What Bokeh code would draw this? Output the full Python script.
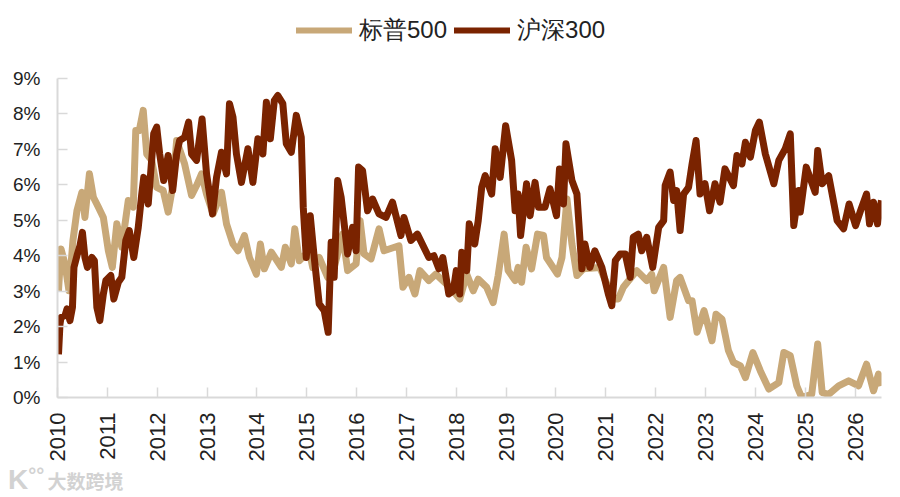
from bokeh.plotting import figure
from bokeh.layouts import column
from bokeh.models import Legend, LegendItem, FixedTicker, Range1d, Div
from bokeh.embed import file_html
from bokeh.resources import INLINE

series_names = ["标普500", "沪深300"]
year_ticks = list(range(2010, 2027))
pct_ticks = list(range(0, 10))

spx_years = [2010.02,2010.07,2010.15,2010.23,2010.31,2010.39,2010.49,2010.55,2010.64,2010.72,2010.82,2010.92,
 2011.02,2011.10,2011.19,2011.29,2011.42,2011.52,2011.57,2011.64,2011.72,2011.79,2011.89,2011.99,
 2012.12,2012.22,2012.32,2012.39,2012.55,2012.69,2012.79,2012.89,2012.99,
 2013.12,2013.29,2013.39,2013.52,2013.62,2013.75,2013.85,2013.99,
 2014.07,2014.15,2014.29,2014.49,2014.57,2014.69,2014.76,2014.85,
 2015.05,2015.12,2015.25,2015.42,2015.55,2015.72,2015.82,2015.99,
 2016.07,2016.15,2016.29,2016.45,2016.55,2016.85,2016.93,
 2017.05,2017.17,2017.27,2017.45,2017.59,2017.87,
 2018.07,2018.21,2018.34,2018.44,2018.61,2018.74,2018.84,2018.96,
 2019.04,2019.18,2019.24,2019.31,2019.40,2019.51,2019.63,2019.75,2019.81,
 2020.03,2020.12,2020.22,2020.32,2020.42,2020.55,2020.88,
 2021.05,2021.15,2021.25,2021.35,2021.62,2021.82,2021.92,2021.97,
 2022.16,2022.29,2022.42,2022.49,2022.66,2022.73,2022.83,2022.97,
 2023.13,2023.21,2023.33,2023.46,2023.56,2023.70,2023.80,2023.95,
 2024.10,2024.27,2024.47,2024.57,2024.70,2024.83,2024.93,
 2025.13,2025.17,2025.25,2025.34,2025.47,2025.67,2025.87,
 2026.07,2026.23,2026.37,2026.47,2026.53]
spx_pct = [3.01,4.19,3.77,3.01,4.43,5.27,5.79,5.08,6.31,5.65,5.37,5.08,
 4.14,3.67,4.90,4.24,5.56,5.37,7.53,7.53,8.10,6.87,6.69,5.93,
 5.84,5.23,6.03,7.25,6.59,5.70,5.98,6.31,5.74,
 5.18,5.79,4.90,4.33,4.14,4.57,3.95,3.48,
 4.33,3.63,4.10,3.67,4.24,3.77,4.76,3.86,
 4.14,3.67,3.95,3.39,3.67,4.61,3.58,3.77,
 4.99,4.05,3.91,4.76,4.14,4.28,3.11,
 3.39,2.92,3.58,3.30,3.48,3.11,
 2.78,3.48,3.01,3.34,3.11,2.68,3.44,4.61,
 3.58,3.30,3.67,3.25,4.24,3.63,4.61,4.57,3.95,
 3.48,3.95,5.60,4.33,3.44,3.63,3.67,
 3.11,2.78,2.78,3.11,3.58,3.30,3.48,3.01,
 3.67,2.26,3.30,3.39,2.73,2.73,1.84,2.45,
 1.60,2.35,2.21,1.32,0.99,0.89,0.56,1.27,
 0.75,0.24,0.42,1.27,1.18,0.33,0.00,
 0.09,0.56,1.51,0.14,0.09,0.33,0.47,
 0.33,0.94,0.19,0.66,0.33]

hs_years = [2010.02,2010.05,2010.07,2010.15,2010.19,2010.25,2010.30,2010.33,2010.40,2010.45,2010.50,2010.55,2010.60,2010.69,2010.74,2010.79,2010.85,2010.92,2010.97,
 2011.07,2011.13,2011.22,2011.29,2011.37,2011.44,2011.53,2011.62,2011.69,2011.73,2011.82,2011.93,2011.99,
 2012.05,2012.13,2012.22,2012.31,2012.39,2012.45,2012.55,2012.63,2012.69,2012.79,2012.90,2012.99,
 2013.11,2013.19,2013.29,2013.39,2013.45,2013.52,2013.59,2013.69,2013.82,2013.92,
 2014.02,2014.12,2014.19,2014.27,2014.35,2014.42,2014.52,2014.59,2014.69,2014.79,2014.89,2014.93,2014.99,
 2015.07,2015.15,2015.25,2015.35,2015.43,2015.49,2015.55,2015.62,2015.69,2015.82,2015.92,2015.99,
 2016.04,2016.12,2016.22,2016.32,2016.45,2016.59,2016.72,2016.89,2016.95,
 2017.09,2017.22,2017.45,2017.55,2017.65,2017.73,2017.85,2017.94,
 2018.00,2018.07,2018.11,2018.21,2018.26,2018.37,2018.44,2018.51,2018.58,2018.71,2018.78,2018.88,2018.99,
 2019.11,2019.18,2019.24,2019.29,2019.41,2019.48,2019.58,2019.65,2019.78,2019.88,
 2020.01,2020.07,2020.15,2020.20,2020.32,2020.42,2020.52,2020.58,2020.68,2020.78,2020.92,
 2021.05,2021.12,2021.19,2021.29,2021.39,2021.49,2021.55,2021.65,2021.72,2021.82,2021.94,
 2022.06,2022.16,2022.19,2022.29,2022.36,2022.42,2022.49,2022.56,2022.66,2022.73,2022.81,2022.89,2022.99,
 2023.08,2023.19,2023.29,2023.39,2023.56,2023.63,2023.73,2023.80,2023.90,
 2024.00,2024.08,2024.20,2024.37,2024.47,2024.60,2024.70,2024.77,2024.87,2024.90,
 2025.02,2025.20,2025.25,2025.34,2025.47,2025.64,2025.77,2025.88,
 2026.01,2026.11,2026.23,2026.29,2026.37,2026.45,2026.53]
hs_pct = [1.22,2.07,2.26,2.31,2.50,2.17,2.54,3.67,4.05,4.28,4.66,3.95,3.67,3.95,3.86,2.54,2.17,2.92,3.30,
 3.44,2.78,3.25,3.39,4.43,4.71,3.95,4.80,5.74,6.21,5.46,7.44,7.63,
 6.87,6.12,6.83,5.84,6.87,7.25,7.34,7.77,6.87,6.69,7.86,6.31,
 5.18,6.21,6.92,6.31,8.29,7.91,6.87,6.07,7.02,6.07,
 7.30,6.87,8.33,7.30,8.38,8.52,8.29,7.16,6.92,7.96,7.34,5.37,3.95,
 5.13,3.95,2.64,2.45,1.84,4.38,3.39,6.12,5.65,4.05,4.80,4.14,
 6.50,6.40,5.27,5.60,5.18,5.08,5.51,4.57,5.08,
 4.43,4.61,3.95,4.00,3.63,3.95,2.92,3.01,
 3.58,2.92,4.10,3.58,4.90,4.33,4.99,5.93,6.26,5.74,7.02,6.21,7.67,
 6.69,5.27,5.74,4.57,6.03,5.13,6.07,5.37,5.37,5.89,
 5.13,6.45,5.46,7.16,6.12,5.74,3.63,4.33,3.67,4.14,3.67,
 2.92,2.59,3.86,4.05,4.05,3.39,4.52,4.61,4.14,4.52,3.67,
 4.80,4.99,5.98,6.36,5.56,5.84,4.71,5.74,5.93,6.59,7.25,5.74,6.03,
 5.27,6.03,5.51,6.45,5.98,6.83,6.59,7.20,6.78,
 7.53,7.77,6.87,6.03,6.69,7.02,7.44,4.85,5.84,5.23,
 6.50,5.79,6.97,6.03,6.26,4.99,4.76,5.46,
 4.85,5.27,5.74,4.90,5.51,4.90,5.56]

TAN = "#C8A878"
DARK = "#7A2300"
GRID = "#D9D9D9"
TEXT = "#222222"
FONT = "Liberation Sans"

# strip above the chart that only holds the legend; its ranges keep the series lines out of view
top = figure(width=890, height=50, output_backend="svg", toolbar_location=None,
             x_range=Range1d(0, 1), y_range=Range1d(0, 1),
             x_axis_location=None, y_axis_location=None,
             min_border_left=0, min_border_right=0, min_border_top=0, min_border_bottom=0,
             background_fill_color="white", border_fill_color="white", outline_line_color=None)
top.grid.visible = False
k1 = top.line(spx_years, spx_pct, line_color=TAN, line_width=6, line_cap="round")
k2 = top.line(hs_years, hs_pct, line_color=DARK, line_width=6, line_cap="round")
legend = Legend(items=[LegendItem(label=series_names[0], renderers=[k1]),
                       LegendItem(label=series_names[1], renderers=[k2])],
                orientation="horizontal", location=(239, 4),
                glyph_width=56, glyph_height=20, label_standoff=7, spacing=7,
                padding=0, margin=0, border_line_color=None, background_fill_alpha=0,
                label_text_font=FONT, label_text_font_size="24px", label_text_color=TEXT)
top.add_layout(legend, "center")

p = figure(width=890, height=415, output_backend="svg", toolbar_location=None,
           x_range=Range1d(2010, 2026.53), y_range=Range1d(0, 9),
           min_border_left=57, min_border_right=9, min_border_top=28, min_border_bottom=68,
           background_fill_color="white", border_fill_color="white", outline_line_color=None)
p.grid.visible = False

p.line(spx_years, spx_pct, line_color=TAN, line_width=7, line_join="round")
p.line(hs_years, hs_pct, line_color=DARK, line_width=7, line_join="round")

p.xaxis.ticker = FixedTicker(ticks=year_ticks)
p.xaxis.major_label_overrides = {y: str(y) for y in year_ticks}
p.xaxis.major_label_orientation = 1.5708
p.yaxis.ticker = FixedTicker(ticks=pct_ticks)
p.yaxis.major_label_overrides = {v: f"{v}%" for v in pct_ticks}
for ax in (p.xaxis[0], p.yaxis[0]):
    ax.axis_line_color = GRID
    ax.axis_line_width = 2
    ax.major_tick_line_color = GRID
    ax.major_tick_line_width = 1.5
    ax.major_tick_in = 10
    ax.major_tick_out = 0
    ax.minor_tick_line_color = None
    ax.major_label_text_font = FONT
    ax.major_label_text_color = TEXT
p.xaxis.major_label_text_font_size = "22px"
p.yaxis.major_label_text_font_size = "19px"
p.xaxis.major_label_standoff = 15
p.yaxis.major_label_standoff = 17

mark = Div(text='<span style="font-family:Liberation Sans;font-size:28px">K</span>'
                '<span style="font-size:20px;vertical-align:6px">&deg;&deg;</span>'
                '<span style="margin-left:3px">大数跨境</span>',
           width=200, height=30, margin=(0, 0, 0, 8),
           styles={"color": "#D2D2D2", "font-family": "Noto Sans CJK SC", "font-size": "19px",
                   "font-weight": "bold", "line-height": "20px"})

page = column(top, p, mark, spacing=0)
open("out.html", "w").write(file_html(page, INLINE))
